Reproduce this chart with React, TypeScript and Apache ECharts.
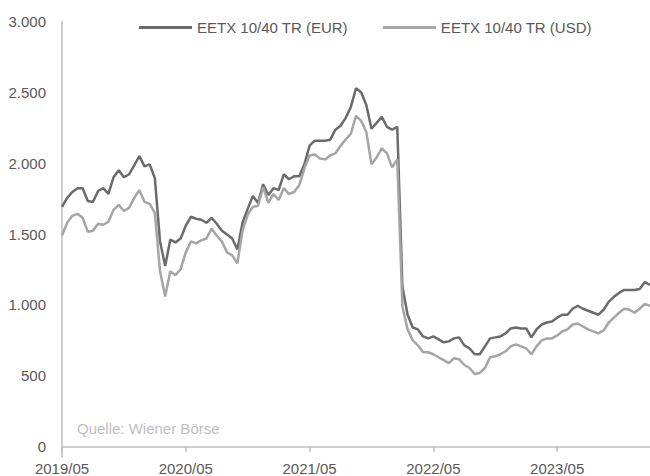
import React, { useEffect, useRef } from "react";
import * as echarts from "echarts";

// Half-monthly observations starting 2019/05 (x = years since 2019/05)
const STEPS_PER_YEAR = 24;
const xTickLabels = ["2019/05", "2020/05", "2021/05", "2022/05", "2023/05"];
const yTickValues = [0, 500, 1000, 1500, 2000, 2500, 3000];

const eurValues = [
  1692, 1755, 1797, 1824, 1824, 1734, 1727, 1804, 1824, 1783,
  1901, 1950, 1901, 1922, 1985, 2050, 1978, 1992, 1894, 1450,
  1275, 1462, 1441, 1469, 1559, 1622, 1608, 1601, 1580, 1615,
  1573, 1524, 1497, 1469, 1392, 1580, 1678, 1769, 1720, 1852,
  1776, 1824, 1811, 1922, 1887, 1908, 1908, 1992, 2124, 2159,
  2159, 2159, 2166, 2236, 2264, 2320, 2397, 2529, 2501, 2411,
  2243, 2285, 2327, 2257, 2236, 2257, 1127, 931, 841, 827,
  778, 764, 778, 757, 736, 743, 764, 771, 715, 694,
  652, 652, 708, 764, 771, 778, 799, 834, 841, 834,
  834, 771, 827, 862, 876, 883, 910, 931, 931, 973,
  994, 973, 959, 945, 931, 966, 1022, 1057, 1085, 1106,
  1106, 1106, 1113, 1162, 1141,
];

const usdValues = [
  1490, 1580, 1629, 1643, 1615, 1517, 1524, 1573, 1566, 1587,
  1671, 1706, 1664, 1685, 1755, 1810, 1727, 1713, 1650, 1240,
  1060, 1238, 1210, 1252, 1371, 1448, 1434, 1455, 1469, 1538,
  1490, 1448, 1371, 1350, 1294, 1524, 1636, 1692, 1699, 1831,
  1720, 1783, 1741, 1824, 1783, 1797, 1845, 1964, 2055, 2062,
  2034, 2027, 2055, 2069, 2124, 2166, 2208, 2334, 2299, 2222,
  1992, 2041, 2104, 2069, 1971, 2027, 987, 827, 750, 715,
  666, 666, 652, 631, 610, 590, 624, 617, 576, 555,
  513, 520, 555, 631, 638, 652, 673, 708, 722, 708,
  694, 652, 708, 750, 764, 764, 785, 813, 827, 862,
  869, 848, 827, 813, 799, 820, 876, 910, 945, 973,
  966, 945, 973, 1008, 994,
];

const seriesNames = ["EETX 10/40 TR (EUR)", "EETX 10/40 TR (USD)"];
const sourceText = "Quelle: Wiener Börse";

const toPairs = (vals: number[]) => vals.map((v, i) => [i / STEPS_PER_YEAR, v]);

const fmtThousands = (v: number) => {
  if (v >= 1000) {
    const th = Math.floor(v / 1000);
    const rest = String(v % 1000).padStart(3, "0");
    return `${th}.${rest}`;
  }
  return String(v);
};

export default function App() {
  const ref = useRef<HTMLDivElement>(null);
  useEffect(() => {
    if (!ref.current) return;
    const chart = echarts.init(ref.current, undefined, { renderer: "svg" });
    const font = "'Liberation Sans', Arial, sans-serif";
    chart.setOption({
      animation: false,
      backgroundColor: "#ffffff",
      textStyle: { fontFamily: font },
      title: {
        text: sourceText,
        left: 72,
        top: 416,
        textStyle: { fontSize: 15, fontWeight: "normal", color: "#c0c0c0", fontFamily: font },
      },
      legend: {
        top: 15,
        left: 134,
        itemWidth: 53,
        itemHeight: 3,
        itemGap: 35,
        icon: "rect",
        textStyle: { fontSize: 15, color: "#595959", fontFamily: font },
        data: seriesNames,
      },
      grid: { left: 62, right: 0, top: 21.5, bottom: 14, containLabel: false },
      xAxis: {
        type: "value",
        min: 0,
        max: 4.75,
        axisLine: { show: true, lineStyle: { color: "#bfbfbf", width: 1.5 } },
        axisTick: {
          show: true,
          length: 5,
          customValues: [0, 1, 2, 3, 4],
          lineStyle: { color: "#bfbfbf", width: 1.5 },
        },
        splitLine: { show: false },
        axisLabel: {
          customValues: [0, 1, 2, 3, 4],
          formatter: (v: number) => xTickLabels[Math.round(v)] ?? "",
          fontSize: 15,
          color: "#595959",
          margin: 4,
          fontFamily: font,
        },
      },
      yAxis: {
        type: "value",
        min: -73,
        max: 3000,
        axisLine: { show: true, lineStyle: { color: "#bfbfbf", width: 1.5 } },
        axisTick: { show: false },
        splitLine: { show: false },
        axisLabel: {
          customValues: yTickValues,
          formatter: (v: number) => fmtThousands(v),
          fontSize: 15,
          color: "#595959",
          margin: 16,
          fontFamily: font,
        },
      },
      series: [
        {
          name: seriesNames[0],
          type: "line",
          data: toPairs(eurValues),
          showSymbol: false,
          symbol: "none",
          lineStyle: { color: "#6b6b6b", width: 2.5 },
          itemStyle: { color: "#6b6b6b" },
        },
        {
          name: seriesNames[1],
          type: "line",
          data: toPairs(usdValues),
          showSymbol: false,
          symbol: "none",
          lineStyle: { color: "#a5a5a5", width: 2.5 },
          itemStyle: { color: "#a5a5a5" },
        },
      ],
    });
    return () => chart.dispose();
  }, []);
  return (
    <div
      ref={ref}
      style={{ position: "absolute", left: 0, top: 0, width: 650, height: 476 }}
    />
  );
}
